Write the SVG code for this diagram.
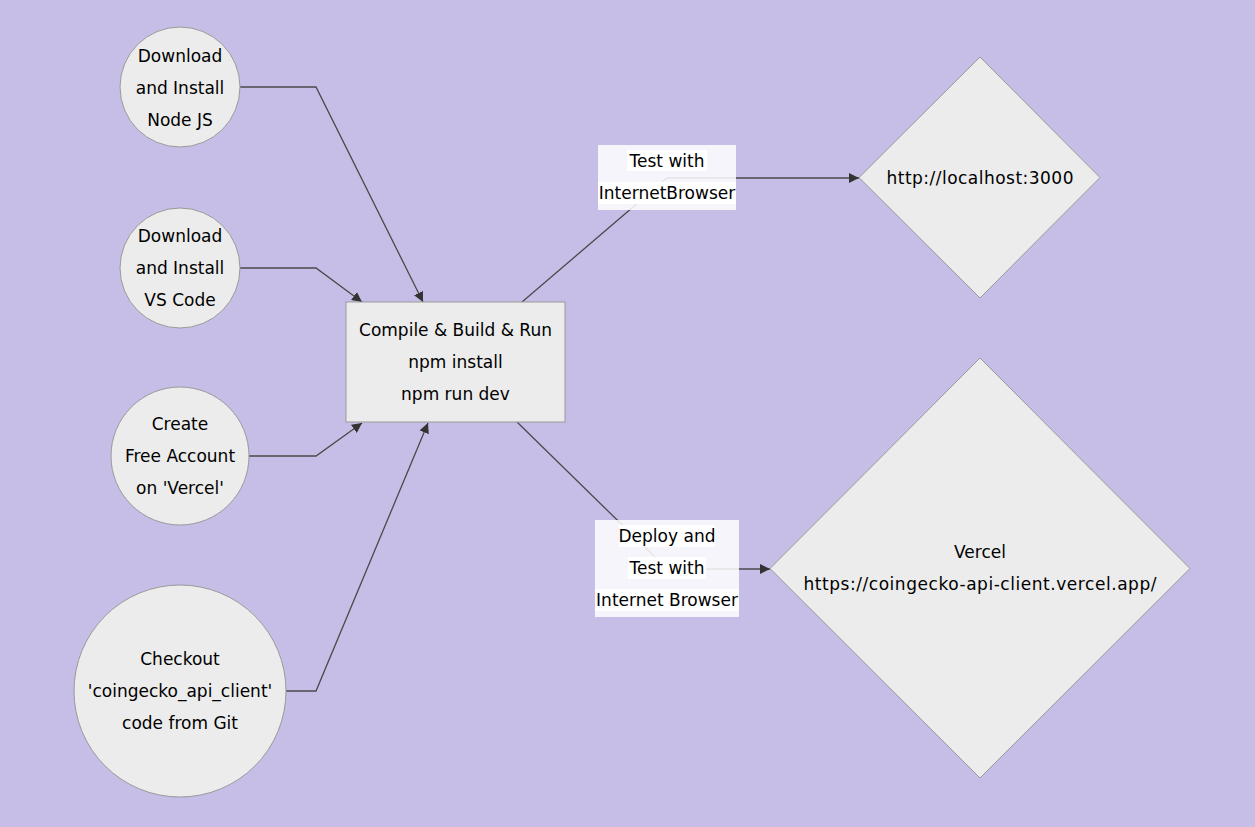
<svg xmlns="http://www.w3.org/2000/svg" width="1255" height="827" viewBox="0 0 1255 827">
<defs>
<marker id="arr" viewBox="0 0 10 10" refX="10" refY="5" markerWidth="10" markerHeight="10" markerUnits="userSpaceOnUse" orient="auto">
<path d="M0,0 L10,5 L0,10 z" fill="#333"/>
</marker>
<style>
.node{fill:#ececec;stroke:#999;stroke-width:1}
.t{font-family:"DejaVu Sans",sans-serif;font-size:17px;fill:#000;text-anchor:middle}
.e{fill:none;stroke:#4a4a4a;stroke-width:1.3;marker-end:url(#arr)}
.lb{fill:#fff;opacity:0.85}
.lt{fill:#fff}
</style>
</defs>
<rect width="1255" height="827" fill="#c6bee6"/>
<g id="connectors">
<path class="e" d="M240,87 L316,87 L423,302"/>
<path class="e" d="M240,268 L316,268 L362,302"/>
<path class="e" d="M249,456 L316,456 L362,423"/>
<path class="e" d="M286,691 L316,691 L428,423"/>
<path class="e" d="M522,302 L667,178 L859,178"/>
<path class="e" d="M517,422 L655,557 L667,569 L770,569"/>
</g>
<g id="label-test">
<rect class="lb" x="598" y="145" width="138" height="65"/>
<rect class="lt" x="627" y="150" width="80" height="21"/>
<rect class="lt" x="598" y="182" width="138" height="22"/>
<text class="t" x="667" y="167">Test with</text>
<text class="t" x="667" y="199">InternetBrowser</text>
</g>
<g id="label-deploy">
<rect class="lb" x="595" y="520" width="144" height="97"/>
<rect class="lt" x="619" y="525" width="96" height="22"/>
<rect class="lt" x="628" y="557" width="78" height="22"/>
<rect class="lt" x="595" y="589" width="144" height="22"/>
<text class="t" x="667" y="542">Deploy and</text>
<text class="t" x="667" y="574">Test with</text>
<text class="t" x="667" y="606">Internet Browser</text>
</g>
<g id="node-nodejs">
<circle class="node" cx="180" cy="87" r="60"/>
<text class="t" x="180" y="62">Download</text>
<text class="t" x="180" y="94">and Install</text>
<text class="t" x="180" y="126">Node JS</text>
</g>
<g id="node-vscode">
<circle class="node" cx="180" cy="268" r="60"/>
<text class="t" x="180" y="242">Download</text>
<text class="t" x="180" y="274">and Install</text>
<text class="t" x="180" y="306">VS Code</text>
</g>
<g id="node-vercel-account">
<circle class="node" cx="180" cy="456" r="69"/>
<text class="t" x="180" y="430">Create</text>
<text class="t" x="180" y="462">Free Account</text>
<text class="t" x="180" y="494">on 'Vercel'</text>
</g>
<g id="node-checkout">
<circle class="node" cx="180" cy="691" r="106"/>
<text class="t" x="180" y="665">Checkout</text>
<text class="t" x="180" y="697">'coingecko_api_client'</text>
<text class="t" x="180" y="729">code from Git</text>
</g>
<g id="node-build">
<rect class="node" x="346" y="302" width="219" height="120"/>
<text class="t" x="455.5" y="336">Compile &amp; Build &amp; Run</text>
<text class="t" x="455.5" y="368">npm install</text>
<text class="t" x="455.5" y="400">npm run dev</text>
</g>
<g id="node-localhost">
<polygon class="node" points="980,57 1100,177.5 980,298 859,177.5"/>
<text class="t" x="980" y="184" textLength="187">http://localhost:3000</text>
</g>
<g id="node-vercel">
<polygon class="node" points="980,358 1190,568.5 980,778 770,568.5"/>
<text class="t" x="980" y="558">Vercel</text>
<text class="t" x="980" y="590" textLength="353">https://coingecko-api-client.vercel.app/</text>
</g>
</svg>
